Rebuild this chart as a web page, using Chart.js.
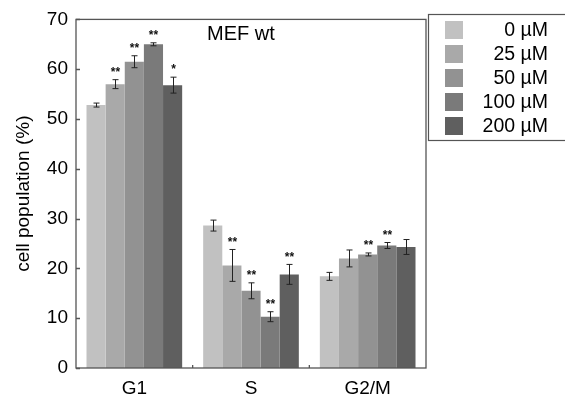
<!DOCTYPE html>
<html lang="en">
<head>
<meta charset="UTF-8">
<title>MEF wt</title>
<script src="https://cdn.jsdelivr.net/npm/chart.js"></script>
<style>
  body { margin: 0; background: #fff; }
  #wrap { width: 565px; height: 398px; }
</style>
</head>
<body>
<div id="wrap"><canvas id="myChart" width="565" height="398"></canvas></div>
<script>
// data
var phases = ['G1', 'S', 'G2/M'];
var doses = ['0 µM', '25 µM', '50 µM', '100 µM', '200 µM'];
var colors = ['#c1c1c1', '#a9a9a9', '#929292', '#7a7a7a', '#5f5f5f'];
var mean0 = [52.8, 28.6, 18.4];
var mean25 = [57.0, 20.6, 22.0];
var mean50 = [61.5, 15.5, 22.8];
var mean100 = [65.0, 10.3, 24.6];
var mean200 = [56.8, 18.8, 24.3];
var err0 = [0.4, 1.1, 0.8];
var err25 = [0.9, 3.2, 1.7];
var err50 = [1.2, 1.6, 0.3];
var err100 = [0.3, 1.0, 0.6];
var err200 = [1.6, 2.0, 1.5];
var stars0 = ['', '', ''];
var stars25 = ['**', '**', ''];
var stars50 = ['**', '**', '**'];
var stars100 = ['**', '**', '**'];
var stars200 = ['*', '**', ''];
var yTicks = [0, 10, 20, 30, 40, 50, 60, 70];

var means = [mean0, mean25, mean50, mean100, mean200];
var errs = [err0, err25, err50, err100, err200];
var stars = [stars0, stars25, stars50, stars100, stars200];
var FONT = '"Liberation Sans", Arial, sans-serif';
var AXIS = '#555';

var extras = {
    id: 'extras',
    afterDatasetsDraw: function (chart) {
        var ctx = chart.ctx, a = chart.chartArea;
        var y = chart.scales.y, x = chart.scales.x;
        ctx.save();
        // error bars + stars
        for (var d = 0; d < means.length; d++) {
            var meta = chart.getDatasetMeta(d);
            meta.data.forEach(function (bar, i) {
                var cx = Math.round(bar.x) + 0.5;
                var top = y.getPixelForValue(means[d][i] + errs[d][i]);
                var bot = y.getPixelForValue(means[d][i] - errs[d][i]);
                ctx.strokeStyle = '#222';
                ctx.lineWidth = 1;
                ctx.beginPath();
                ctx.moveTo(cx, top); ctx.lineTo(cx, bot);
                ctx.moveTo(cx - 3, top); ctx.lineTo(cx + 3, top);
                ctx.moveTo(cx - 3, bot); ctx.lineTo(cx + 3, bot);
                ctx.stroke();
                if (stars[d][i]) {
                    ctx.fillStyle = '#111';
                    ctx.font = 'bold 12px ' + FONT;
                    ctx.textAlign = 'center';
                    ctx.textBaseline = 'bottom';
                    ctx.fillText(stars[d][i], cx, top - 1);
                }
            });
        }
        // frame
        ctx.strokeStyle = AXIS;
        ctx.lineWidth = 1.3;
        ctx.strokeRect(a.left, a.top, a.right - a.left, a.bottom - a.top);
        // y ticks inward
        ctx.beginPath();
        yTicks.forEach(function (v) {
            var py = Math.round(y.getPixelForValue(v)) + 0.5;
            ctx.moveTo(a.left, py); ctx.lineTo(a.left + 4, py);
        });
        // x ticks at category boundaries
        for (var i = 1; i < phases.length; i++) {
            var px = (x.getPixelForValue(i - 1) + x.getPixelForValue(i)) / 2;
            ctx.moveTo(px, a.bottom); ctx.lineTo(px, a.bottom - 3);
        }
        ctx.stroke();
        // title
        ctx.fillStyle = '#000';
        ctx.font = '20px ' + FONT;
        ctx.textAlign = 'left';
        ctx.textBaseline = 'middle';
        ctx.fillText('MEF wt', 207, 34);
        // legend box
        ctx.strokeStyle = AXIS;
        ctx.lineWidth = 1.2;
        ctx.strokeRect(428.5, 14.5, 140, 126);
        ctx.font = '19.5px ' + FONT;
        ctx.textAlign = 'right';
        for (var k = 0; k < doses.length; k++) {
            var cy = 30 + k * 24;
            ctx.fillStyle = colors[k];
            ctx.fillRect(445, cy - 9, 18, 18);
            ctx.fillStyle = '#000';
            ctx.fillText(doses[k], 548, cy + 1);
        }
        ctx.restore();
    }
};

var datasets = means.map(function (m, k) {
    return {
        label: doses[k],
        data: m,
        backgroundColor: colors[k],
        borderWidth: 0,
        categoryPercentage: 0.82,
        barPercentage: 1.0
    };
});

new Chart(document.getElementById('myChart').getContext('2d'), {
    type: 'bar',
    data: { labels: phases, datasets: datasets },
    plugins: [extras],
    options: {
        responsive: false,
        animation: false,
        layout: { padding: { top: 17, right: 139, left: 12, bottom: 0 } },
        plugins: { legend: { display: false }, tooltip: { enabled: false } },
        scales: {
            x: {
                grid: { display: false, drawTicks: false },
                border: { display: false },
                ticks: { color: '#000', font: { family: FONT, size: 19 }, padding: 9 },
                afterFit: function (s) { s.height = 30; }
            },
            y: {
                min: 0, max: 70,
                afterBuildTicks: function (s) { s.ticks = yTicks.map(function (v) { return { value: v }; }); },
                grid: { display: false, drawTicks: false },
                border: { display: false },
                ticks: { color: '#000', font: { family: FONT, size: 19 }, padding: 8 },
                title: { display: true, text: 'cell population (%)', color: '#000', font: { family: FONT, size: 19 }, padding: 0 },
                afterFit: function (s) { s.width = 64; }
            }
        }
    }
});
</script>
</body>
</html>
